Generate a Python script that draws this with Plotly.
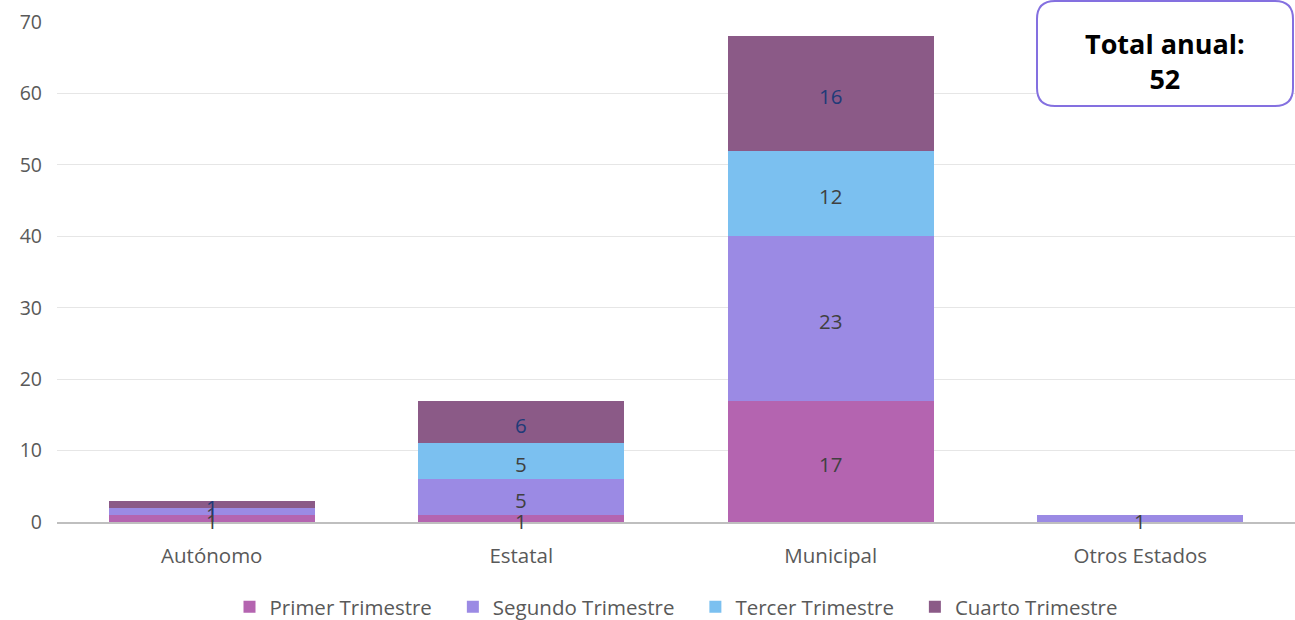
import plotly.graph_objects as go

categories = ["Autónomo", "Estatal", "Municipal", "Otros Estados"]
series_names = ["Primer Trimestre", "Segundo Trimestre", "Tercer Trimestre", "Cuarto Trimestre"]
primer = [1, 1, 17, 0]
segundo = [1, 5, 23, 1]
tercer = [0, 5, 12, 0]
cuarto = [1, 6, 16, 0]
total_anual = 52
y_ticks = [0, 10, 20, 30, 40, 50, 60, 70]

colors = ["#B464B0", "#9B8AE4", "#7BC0F0", "#8B5A87"]
label_colors = ["#404040", "#404040", "#404040", "#203A78"]
FONT = "Open Sans, Lato, sans-serif"
NB = "\u00a0"

fig = go.Figure()
all_series = [primer, segundo, tercer, cuarto]
for i, (name, vals, col) in enumerate(zip(series_names, all_series, colors)):
    pad = NB * 3 if i < len(series_names) - 1 else ""
    fig.add_trace(go.Bar(
        x=categories, y=vals, name=name + pad,
        marker=dict(color=col, line=dict(width=0)),
    ))

# data labels on top of all bars (centre of each stacked segment)
annotations = []
base = [0] * len(categories)
for vals, lc in zip(all_series, label_colors):
    for cat, b, v in zip(categories, base, vals):
        if v:
            annotations.append(dict(
                x=cat, y=b + v / 2, xref="x", yref="y", text=str(v),
                showarrow=False, yshift=-3, xanchor="center", yanchor="middle",
                font=dict(color=lc, size=20.5, family=FONT),
            ))
    base = [b + v for b, v in zip(base, vals)]

W, H = 1295, 620
ml, mr, mt, mb = 57, 0, 22, 98
pw, ph = W - ml - mr, H - mt - mb

def px2paper(xp, yp):
    return (xp - ml) / pw, (H - mb - yp) / ph

x0, y1 = px2paper(1037, 1)
x1, y0 = px2paper(1293, 106)
rx, ry = 18 / pw, 18 / ph
path = (f"M {x0+rx},{y1} L {x1-rx},{y1} Q {x1},{y1} {x1},{y1-ry} "
        f"L {x1},{y0+ry} Q {x1},{y0} {x1-rx},{y0} L {x0+rx},{y0} "
        f"Q {x0},{y0} {x0},{y0+ry} L {x0},{y1-ry} Q {x0},{y1} {x0+rx},{y1} Z")
ax, ay = px2paper(1165, 61)

annotations.append(dict(text=f"<b>Total anual:<br>{total_anual}</b>", xref="paper", yref="paper",
                        x=ax, y=ay, xanchor="center", yanchor="middle",
                        showarrow=False, font=dict(size=27, color="#000000", family=FONT),
                        align="center"))

fig.update_layout(
    width=W, height=H,
    margin=dict(l=ml, r=mr, t=mt, b=mb),
    barmode="stack", bargap=0.333,
    plot_bgcolor="white", paper_bgcolor="white",
    font=dict(family=FONT, color="#595959", size=20),
    xaxis=dict(showgrid=False, showline=True, linecolor="#BFBFBF", linewidth=1.5,
               ticks="", tickfont=dict(size=20.5, color="#595959"), ticklabelstandoff=15),
    yaxis=dict(range=[0, 70], tickvals=y_ticks, showgrid=True, gridcolor="#E6E6E6",
               gridwidth=1, zeroline=False, ticks="", ticklen=0,
               tickfont=dict(size=19.5, color="#595959"), ticklabelstandoff=14),
    legend=dict(orientation="h", x=0.5, xanchor="center", yref="container",
                y=(H - 607) / H, yanchor="middle",
                font=dict(size=20.5, color="#595959"), itemwidth=30, traceorder="normal"),
    shapes=[dict(type="path", path=path, xref="paper", yref="paper",
                 line=dict(color="#8470E0", width=2), fillcolor="white", layer="above")],
    annotations=annotations,
)

fig.write_html("out.html", config={"displayModeBar": False},
               post_script="document.body.style.margin='0px';")
